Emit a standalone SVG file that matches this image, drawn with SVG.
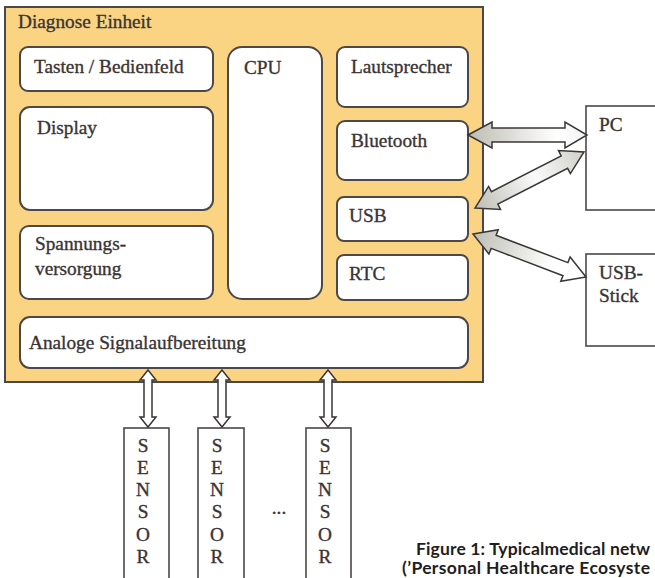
<svg xmlns="http://www.w3.org/2000/svg" width="655" height="578" viewBox="0 0 655 578">
  <style>
    .frame { fill: #FAD482; stroke: #4d4848; stroke-width: 2; }
    .box { fill: #ffffff; stroke: #4d4848; stroke-width: 2; }
    .ext { fill: #ffffff; stroke: #4d4848; stroke-width: 1.6; }
    .t { font-family: "Liberation Serif", "Times New Roman", serif; font-size: 19.3px; fill: #3a3434; stroke: #3a3434; stroke-width: 0.35; }
    .arr { stroke: #3a3636; stroke-width: 1.5; stroke-linejoin: miter; }
    .varr { fill: #ffffff; stroke: #3a3636; stroke-width: 1.5; }
    .cap { font-family: "Lato", "Open Sans", sans-serif; font-weight: 700; font-size: 17.5px; fill: #1e1e1e; }
  </style>
  <defs>
    <linearGradient id="g1" gradientUnits="userSpaceOnUse" x1="468" y1="135" x2="587" y2="135">
      <stop offset="0" stop-color="#bdbdb4"/>
      <stop offset="0.75" stop-color="#ffffff"/>
      <stop offset="1" stop-color="#f2f2f2"/>
    </linearGradient>
    <linearGradient id="g2" gradientUnits="userSpaceOnUse" x1="475" y1="208" x2="584" y2="152">
      <stop offset="0" stop-color="#bdbdb4"/>
      <stop offset="0.55" stop-color="#fafafa"/>
      <stop offset="1" stop-color="#cfcfca"/>
    </linearGradient>
    <linearGradient id="g3" gradientUnits="userSpaceOnUse" x1="473" y1="234" x2="586" y2="277">
      <stop offset="0" stop-color="#bdbdb4"/>
      <stop offset="0.7" stop-color="#ffffff"/>
      <stop offset="1" stop-color="#ffffff"/>
    </linearGradient>
  </defs>

  <g id="diagnose-einheit">
    <rect class="frame" x="5" y="7" width="478" height="375"/>
    <text class="t" x="18" y="28">Diagnose Einheit</text>
  </g>

  <g id="tasten">
    <rect class="box" x="20" y="47" width="193" height="44" rx="8"/>
    <text class="t" x="34" y="73">Tasten / Bedienfeld</text>
  </g>
  <g id="display">
    <rect class="box" x="20" y="107" width="193" height="103" rx="10"/>
    <text class="t" x="37" y="134">Display</text>
  </g>
  <g id="spannungsversorgung">
    <rect class="box" x="20" y="226" width="193" height="73" rx="9"/>
    <text class="t" x="35" y="250">Spannungs-</text>
    <text class="t" x="35" y="275">versorgung</text>
  </g>
  <g id="cpu">
    <rect class="box" x="228" y="47" width="94" height="252" rx="14"/>
    <text class="t" x="244" y="74">CPU</text>
  </g>
  <g id="lautsprecher">
    <rect class="box" x="337" y="47" width="131" height="60" rx="8"/>
    <text class="t" x="351" y="73">Lautsprecher</text>
  </g>
  <g id="bluetooth">
    <rect class="box" x="337" y="121" width="131" height="59" rx="8"/>
    <text class="t" x="351" y="147">Bluetooth</text>
  </g>
  <g id="usb">
    <rect class="box" x="337" y="197" width="131" height="44" rx="7"/>
    <text class="t" x="349" y="222">USB</text>
  </g>
  <g id="rtc">
    <rect class="box" x="337" y="255" width="131" height="45" rx="7"/>
    <text class="t" x="349" y="280">RTC</text>
  </g>
  <g id="analoge-signalaufbereitung">
    <rect class="box" x="20" y="317" width="448" height="51" rx="10"/>
    <text class="t" x="29" y="349">Analoge Signalaufbereitung</text>
  </g>

  <g id="pc">
    <rect class="ext" x="586" y="106" width="80" height="104"/>
    <text class="t" x="599" y="131">PC</text>
  </g>
  <g id="usb-stick">
    <rect class="ext" x="586" y="254" width="80" height="92"/>
    <text class="t" x="599" y="279">USB-</text>
    <text class="t" x="599" y="302">Stick</text>
  </g>

  <g id="sensor-1">
    <rect class="ext" x="124" y="428" width="45" height="160"/>
    <text class="t" text-anchor="middle" x="143" y="452">S</text>
    <text class="t" text-anchor="middle" x="143" y="474">E</text>
    <text class="t" text-anchor="middle" x="143" y="496">N</text>
    <text class="t" text-anchor="middle" x="143" y="518">S</text>
    <text class="t" text-anchor="middle" x="143" y="541">O</text>
    <text class="t" text-anchor="middle" x="143" y="563">R</text>
  </g>
  <g id="sensor-2">
    <rect class="ext" x="198" y="428" width="46" height="160"/>
    <text class="t" text-anchor="middle" x="217" y="452">S</text>
    <text class="t" text-anchor="middle" x="217" y="474">E</text>
    <text class="t" text-anchor="middle" x="217" y="496">N</text>
    <text class="t" text-anchor="middle" x="217" y="518">S</text>
    <text class="t" text-anchor="middle" x="217" y="541">O</text>
    <text class="t" text-anchor="middle" x="217" y="563">R</text>
  </g>
  <g id="ellipsis">
    <text class="t" text-anchor="middle" x="279" y="514">...</text>
  </g>
  <g id="sensor-3">
    <rect class="ext" x="306" y="428" width="45" height="160"/>
    <text class="t" text-anchor="middle" x="325" y="452">S</text>
    <text class="t" text-anchor="middle" x="325" y="474">E</text>
    <text class="t" text-anchor="middle" x="325" y="496">N</text>
    <text class="t" text-anchor="middle" x="325" y="518">S</text>
    <text class="t" text-anchor="middle" x="325" y="541">O</text>
    <text class="t" text-anchor="middle" x="325" y="563">R</text>
  </g>

  <g id="connectors">
    <polygon class="arr" fill="url(#g1)" points="468,135 492,122 492,128 565,128 565,122 587,135 565,148 565,142 492,142 492,148"/>
    <polygon class="arr" fill="url(#g2)" points="475,208 500.5,209.5 497.8,204.2 567.6,168.3 570.4,173.6 584,152 558.5,150.5 561.2,155.8 491.4,191.7 488.6,186.4"/>
    <polygon class="arr" fill="url(#g3)" points="473,234 498.2,229.7 496.1,235.3 567.9,262.6 570.1,257 586,277 560.8,281.3 563,275.7 491.1,248.4 488.9,254"/>
    <polygon class="varr" points="148,370 156,380 152,380 152,417 156,417 148,427 140,417 144,417 144,380 140,380"/>
    <polygon class="varr" points="222,370 230,380 226,380 226,417 230,417 222,427 214,417 218,417 218,380 214,380"/>
    <polygon class="varr" points="328,370 336,380 332,380 332,417 336,417 328,427 320,417 324,417 324,380 320,380"/>
  </g>

  <g id="caption">
    <text class="cap" x="416" y="555" textLength="234" lengthAdjust="spacing">Figure 1: Typicalmedical netw</text>
    <text class="cap" x="402" y="574" textLength="248" lengthAdjust="spacing">(’Personal Healthcare Ecosyste</text>
  </g>
</svg>
